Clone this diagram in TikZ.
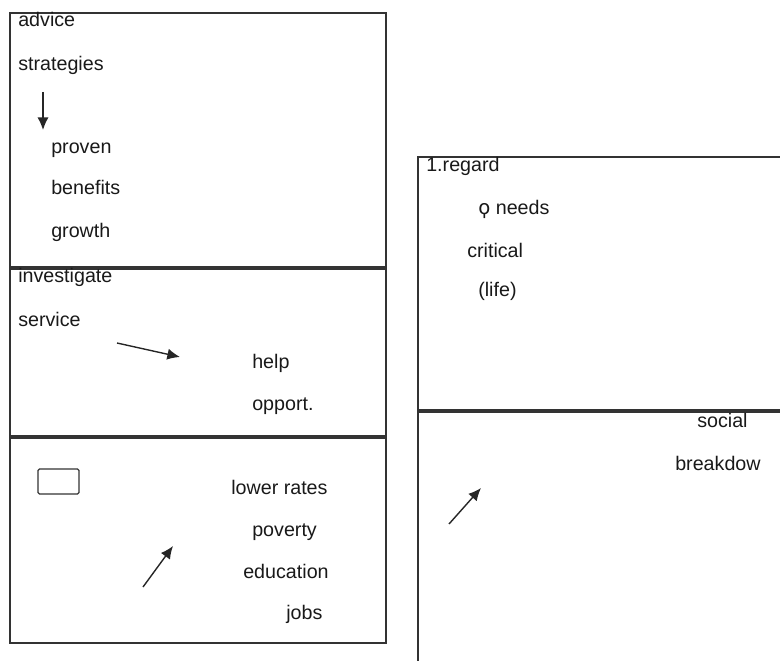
\documentclass[tikz,border=0pt]{standalone}
\usepackage{fontspec}
\setmainfont{Liberation Sans}
\newfontfamily\symfont{DejaVu Sans}
\usetikzlibrary{arrows.meta, positioning}
\tikzset{
  panel/.style={draw=black!80, line width=0.9pt},
  word/.style={anchor=base west, inner sep=0pt, text=black!90,
               font=\fontsize{14}{16}\selectfont},
  arrow/.style={-{Latex[length=9pt, width=8pt]}, line width=1pt, draw=black!85},
  tinybox/.style={draw=black!80, line width=0.9pt, rounded corners=1pt},
}

\begin{document}
\begin{tikzpicture}[x=0.025cm, y=-0.025cm]
  \useasboundingbox (0,0) rectangle (780,661);
  \clip (0,0) rectangle (780,661);

  % left column of panels
  \draw[panel] (10,13) rectangle (386,267);
  \draw[panel] (10,269) rectangle (386,436);
  \draw[panel] (10,438) rectangle (386,643);

  % right column of panels
  \draw[panel] (418,157) rectangle (790,410);
  \draw[panel] (418,412) rectangle (790,680);

  % top left panel
  \node[word] (advice) at (18,27) {advice};
  \node[word] (strat) at (18,71) {strategies};
  \coordinate (strattail) at (43,92);
  \coordinate (strathead) at (43,130);
  \draw[arrow] (strattail) -- (strathead);
  \node[word] (proven) at (51,154) {proven};
  \node[word] (benefit) at (51,195) {benefits};
  \node[word] (growth) at (51,238) {growth};

  % middle left panel
  \node[word] (invest) at (18,283) {investigate};
  \node[word] (service) at (18,327) {service};
  \coordinate (servtail) at (117,343);
  \coordinate (servhead) at (180,357);
  \draw[arrow] (servtail) -- (servhead);
  \node[word] (help) at (252,368) {help};
  \node[word] (opport) at (252,410) {opport.};

  % bottom left panel
  \node[tinybox, minimum width=41*0.025cm, minimum height=25*0.025cm,
        inner sep=0pt] (blank) at (58.5,481.5) {};
  \node[word] (lower) at (231,494) {lower rates};
  \node[word] (poverty) at (252,536) {poverty};
  \node[word] (educ) at (243,578) {education};
  \node[word] (jobs) at (286,619) {jobs};
  \coordinate (edtail) at (143,587);
  \coordinate (edhead) at (173,546);
  \draw[arrow] (edtail) -- (edhead);

  % top right panel
  \node[word] (regard) at (426,172) {1.regard};
  \node[word] (needs) at (478,215) {{\symfont ϙ} needs};
  \node[word] (critical) at (467,258) {critical};
  \node[word] (life) at (478,297) {(life)};

  % bottom right panel
  \node[word] (social) at (697,427) {social};
  \node[word] (breakdown) at (675,470) {breakdow};
  \coordinate (soctail) at (449,524);
  \coordinate (sochead) at (481,488);
  \draw[arrow] (soctail) -- (sochead);
\end{tikzpicture}
\end{document}
